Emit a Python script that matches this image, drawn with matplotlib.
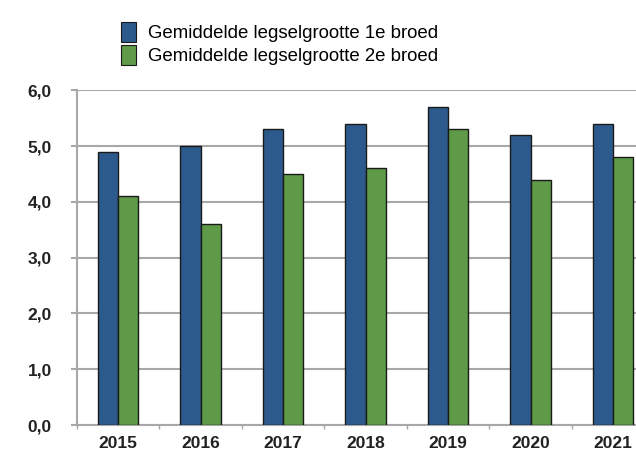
import matplotlib
matplotlib.use("Agg")
import matplotlib.pyplot as plt
import numpy as np
from matplotlib.patches import Patch

years = ["2015", "2016", "2017", "2018", "2019", "2020", "2021"]
brood1 = [4.9, 5.0, 5.3, 5.4, 5.7, 5.2, 5.4]
brood2 = [4.1, 3.6, 4.5, 4.6, 5.3, 4.4, 4.8]
series_labels = ["Gemiddelde legselgrootte 1e broed", "Gemiddelde legselgrootte 2e broed"]
yticks = [0, 1, 2, 3, 4, 5, 6]
ytick_labels = ["0,0", "1,0", "2,0", "3,0", "4,0", "5,0", "6,0"]

plt.rcParams['font.family'] = ['Liberation Sans', 'DejaVu Sans']

blue = "#2D5A8C"
green = "#5E9A48"
edge = "#1A1A1A"
grid = "#A8A8A8"

fig = plt.figure(figsize=(6.36, 4.58), dpi=100)
ax = fig.add_axes([0.121, 0.072, 0.908, 0.731])

x = np.arange(len(years))
w = 0.245
ax.bar(x - w/2, brood1, width=w, color=blue, edgecolor=edge, linewidth=1.0, zorder=3)
ax.bar(x + w/2, brood2, width=w, color=green, edgecolor=edge, linewidth=1.0, zorder=3)

ax.set_xlim(-0.5, len(years) - 0.5)
ax.set_ylim(0, 6)
ax.set_yticks(yticks)
ax.set_yticklabels(ytick_labels, fontsize=12.5, fontweight='bold', color="#222222")
ax.set_xticks(x)
ax.set_xticklabels(years, fontsize=12.5, fontweight='bold', color="#222222")
ax.set_xticks(np.arange(-0.5, len(years), 1), minor=True)
ax.tick_params(axis='x', which='major', length=0, pad=8)
ax.tick_params(axis='x', which='minor', length=3, color=grid, width=1)
ax.tick_params(axis='y', length=4, color=grid, width=1.5, pad=14)

ax.yaxis.grid(True, color=grid, linewidth=1.5, zorder=0)
for s in ['top', 'right']:
    ax.spines[s].set_visible(False)
ax.spines['left'].set_color(grid)
ax.spines['left'].set_linewidth(1.5)
ax.spines['bottom'].set_color(grid)
ax.spines['bottom'].set_linewidth(1.5)

handles = [Patch(facecolor=blue, edgecolor=edge, linewidth=0.8),
           Patch(facecolor=green, edgecolor=edge, linewidth=0.8)]
fig.legend(handles, series_labels, loc='upper left', bbox_to_anchor=(0.178, 0.968),
           frameon=False, fontsize=13.4, handlelength=0.8, handleheight=1.3,
           handletextpad=0.65, labelspacing=0.12, borderaxespad=0)

fig.savefig("out.png", dpi=100)
